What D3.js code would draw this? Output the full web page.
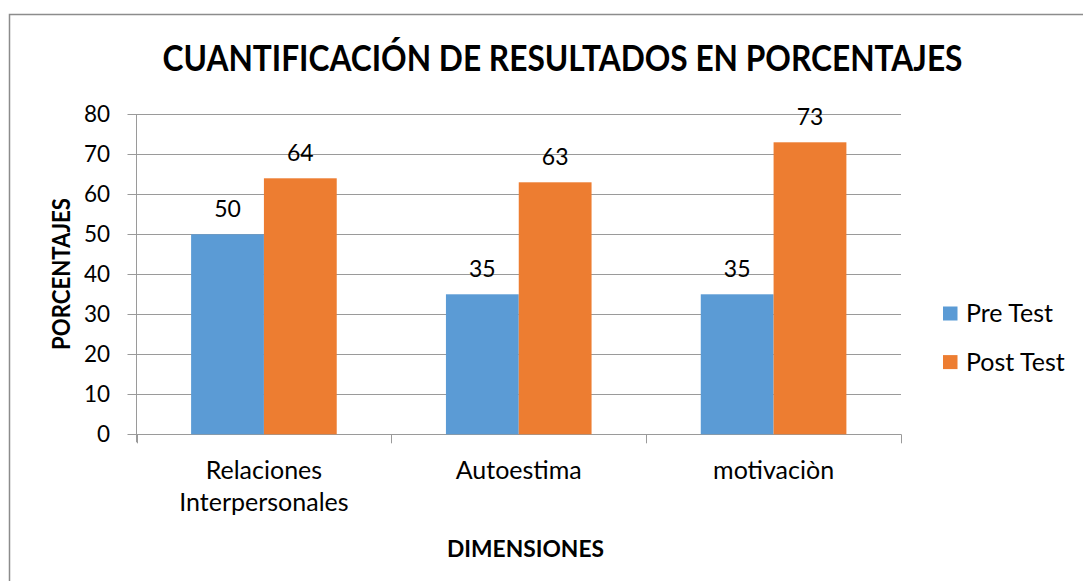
<!DOCTYPE html>
<html>
<head>
<meta charset="utf-8">
<script src="https://cdn.jsdelivr.net/npm/d3@7"></script>
<style>
  html, body { margin: 0; padding: 0; background: #fff; }
  svg { display: block; }
  text { font-family: Lato, "Open Sans", sans-serif; fill: #000; }
</style>
</head>
<body>
<svg id="chart" width="1083" height="581"></svg>
<script>
const categories = ["Relaciones Interpersonales", "Autoestima", "motivaciòn"];
const categoryLines = [["Relaciones", "Interpersonales"], ["Autoestima"], ["motivaciòn"]];
const seriesNames = ["Pre Test", "Post Test"];
const preTest = [50, 35, 35];
const postTest = [64, 63, 73];
const yTicks = [0, 10, 20, 30, 40, 50, 60, 70, 80];
const colors = ["#5B9BD5", "#ED7D31"];

(function () {
const svg = d3.select("#chart");

// outer border
svg.append("rect")
  .attr("x", 9.5).attr("y", 14.5)
  .attr("width", 1100).attr("height", 600)
  .attr("fill", "#fff").attr("stroke", "#8c8c8c").attr("stroke-width", 1.5);

const pLeft = 136.5, pRight = 901, pTop = 114.3, pBottom = 434.3;

const x0 = d3.scaleBand().domain(categories).range([pLeft, pRight]).paddingInner(0).paddingOuter(0);
const x1 = d3.scaleBand().domain(seriesNames).range([0, x0.bandwidth()]).paddingInner(0).paddingOuter(0.75);
const y = d3.scaleLinear().domain([0, 80]).range([pBottom, pTop]);

// gridlines
svg.append("g").selectAll("line").data(yTicks).join("line")
  .attr("x1", pLeft - 9).attr("x2", pRight)
  .attr("y1", d => Math.round(y(d)) + 0.5).attr("y2", d => Math.round(y(d)) + 0.5)
  .attr("stroke", "#9a9a9a").attr("stroke-width", 1);

// y axis line
svg.append("line")
  .attr("x1", pLeft).attr("x2", pLeft)
  .attr("y1", pTop).attr("y2", pBottom + 8)
  .attr("stroke", "#9a9a9a").attr("stroke-width", 1);

// category ticks
const catTicks = categories.map(c => x0(c)).concat([pRight]);
svg.append("g").selectAll("line").data(catTicks).join("line")
  .attr("x1", d => Math.round(d) + 0.5).attr("x2", d => Math.round(d) + 0.5)
  .attr("y1", pBottom).attr("y2", pBottom + 9)
  .attr("stroke", "#9a9a9a").attr("stroke-width", 1);

// y tick labels
svg.append("g").selectAll("text").data(yTicks).join("text")
  .attr("x", 110).attr("y", d => y(d) + 8)
  .attr("text-anchor", "end")
  .style("font-size", "22.5px")
  .text(d => d);

// bars
const seriesData = [preTest, postTest];
const groups = svg.append("g").selectAll("g").data(seriesNames).join("g")
  .attr("fill", (d, i) => colors[i]);
groups.each(function(s, si) {
  const g = d3.select(this);
  g.selectAll("rect").data(categories).join("rect")
    .attr("x", c => x0(c) + x1(s))
    .attr("width", x1.bandwidth())
    .attr("y", (c, ci) => y(seriesData[si][ci]))
    .attr("height", (c, ci) => pBottom - y(seriesData[si][ci]));
  g.selectAll("text").data(categories).join("text")
    .attr("x", c => x0(c) + x1(s) + x1.bandwidth() / 2)
    .attr("y", (c, ci) => y(seriesData[si][ci]) - 17)
    .attr("text-anchor", "middle")
    .style("font-size", "23px")
    .style("fill", "#000")
    .text((c, ci) => seriesData[si][ci]);
});

// category labels
categories.forEach((c, i) => {
  const cx = x0(c) + x0.bandwidth() / 2;
  categoryLines[i].forEach((line, li) => {
    svg.append("text")
      .attr("x", cx).attr("y", 479 + li * 32)
      .attr("text-anchor", "middle")
      .style("font-size", "25px")
      .text(line);
  });
});

// title
svg.append("text")
  .attr("x", 562.5).attr("y", 71)
  .attr("text-anchor", "middle")
  .attr("textLength", 800).attr("lengthAdjust", "spacingAndGlyphs")
  .style("font-size", "36px").style("font-weight", "bold")
  .text("CUANTIFICACIÓN DE RESULTADOS EN PORCENTAJES");

// y axis title
svg.append("text")
  .attr("transform", "translate(70,274) rotate(-90)")
  .attr("text-anchor", "middle")
  .attr("textLength", 152).attr("lengthAdjust", "spacingAndGlyphs")
  .style("font-size", "24px").style("font-weight", "bold")
  .text("PORCENTAJES");

// x axis title
svg.append("text")
  .attr("x", 525.5).attr("y", 557)
  .attr("text-anchor", "middle")
  .attr("textLength", 157).attr("lengthAdjust", "spacingAndGlyphs")
  .style("font-size", "22px").style("font-weight", "bold")
  .text("DIMENSIONES");

// legend
const legend = svg.append("g").selectAll("g").data(seriesNames).join("g")
  .attr("transform", (d, i) => `translate(943,${306.5 + i * 48.6})`);
legend.append("rect").attr("width", 14.5).attr("height", 14)
  .attr("fill", (d, i) => colors[i]);
legend.append("text").attr("x", 23).attr("y", 15.5)
  .style("font-size", "25px")
  .text(d => d);
})();
</script>
</body>
</html>
